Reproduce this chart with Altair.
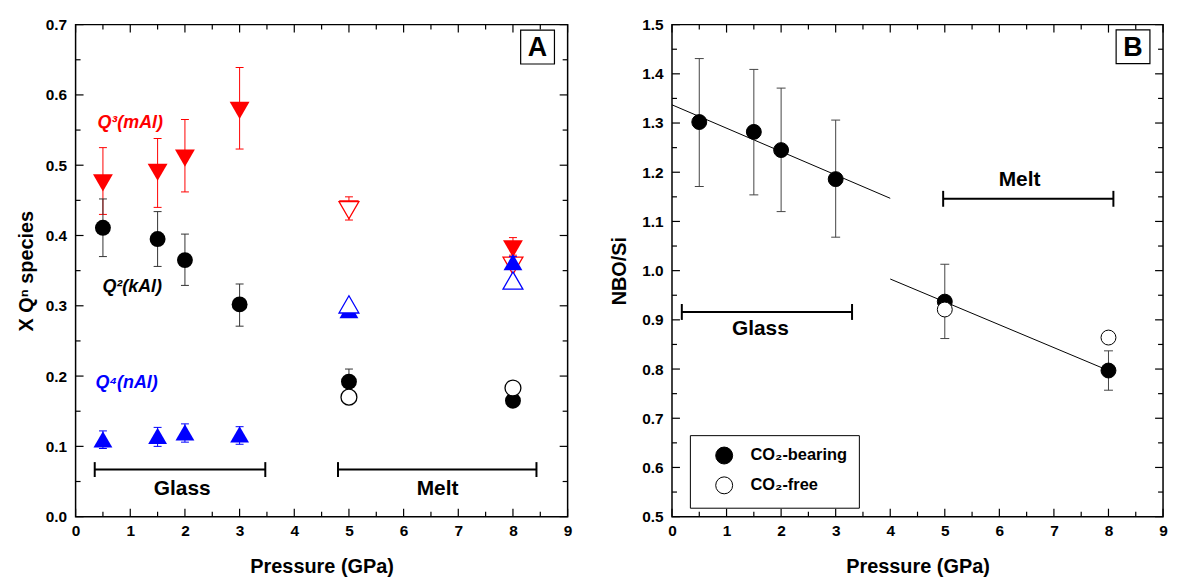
import altair as alt
import pandas as pd

FONT = "Liberation Sans"

# ---------------- Panel A data ----------------
species = ["Q3", "Q2", "Q4"]
sp_color = ["#ff0000", "#000000", "#0000ff"]
err_color = ["#ff0000", "#333333", "#0000ff"]
sp_shape = ["triangle-down", "circle", "triangle-up"]
sp_size = [400, 256, 360]

glass_p = [0.5, 1.5, 2.0, 3.0]
q3_glass = [0.475, 0.490, 0.510, 0.578]
q3_glass_lo = [0.430, 0.440, 0.462, 0.523]
q3_glass_hi = [0.525, 0.538, 0.565, 0.639]
q2_glass = [0.411, 0.395, 0.365, 0.302]
q2_glass_lo = [0.370, 0.356, 0.329, 0.271]
q2_glass_hi = [0.452, 0.434, 0.402, 0.331]
q4_glass = [0.110, 0.115, 0.120, 0.117]
q4_glass_lo = [0.097, 0.100, 0.106, 0.103]
q4_glass_hi = [0.122, 0.127, 0.132, 0.128]

melt_p = [5.0, 8.0]
q3_melt_co2 = [0.438, 0.381]
q3_melt_co2_lo = [0.422, 0.372]
q3_melt_co2_hi = [0.455, 0.397]
q2_melt_co2 = [0.192, 0.165]
q2_melt_co2_lo = [0.180, 0.158]
q2_melt_co2_hi = [0.210, 0.172]
q4_melt_co2 = [0.294, 0.362]
q4_melt_co2_lo = [0.284, 0.355]
q4_melt_co2_hi = [0.300, 0.370]
q3_melt_free = [0.436, 0.357]
q2_melt_free = [0.170, 0.183]
q4_melt_free = [0.302, 0.336]

A_x_major = [0, 1, 2, 3, 4, 5, 6, 7, 8, 9]
A_x_minor = [0.5, 1.5, 2.5, 3.5, 4.5, 5.5, 6.5, 7.5, 8.5]
A_y_major = [0.0, 0.1, 0.2, 0.3, 0.4, 0.5, 0.6, 0.7]
A_y_minor = [0.05, 0.15, 0.25, 0.35, 0.45, 0.55, 0.65]

A_labels = ["Q³(mAl)", "Q²(kAl)", "Q⁴(nAl)"]
A_label_x = [0.40, 0.49, 0.365]
A_label_y = [0.560, 0.326, 0.190]

A_glass_span = [0.35, 3.47]
A_melt_span = [4.80, 8.43]
A_span_level = 0.067
A_region_text = ["Glass", "Melt"]
A_region_x = [1.95, 6.62]
A_region_y = [0.040, 0.040]

# ---------------- Panel B data ----------------
nbo_p = [0.5, 1.5, 2.0, 3.0, 5.0, 8.0]
nbo_co2 = [1.302, 1.282, 1.245, 1.186, 0.937, 0.797]
nbo_co2_lo = [1.171, 1.154, 1.120, 1.068, 0.862, 0.757]
nbo_co2_hi = [1.431, 1.409, 1.371, 1.306, 1.013, 0.837]
nbo_free_p = [5.0, 8.0]
nbo_free = [0.921, 0.864]
fit_glass_p = [0.0, 4.0]
fit_glass = [1.337, 1.147]
fit_melt_p = [4.0, 8.0]
fit_melt = [0.983, 0.797]

B_x_major = A_x_major
B_x_minor = A_x_minor
B_y_major = [0.5, 0.6, 0.7, 0.8, 0.9, 1.0, 1.1, 1.2, 1.3, 1.4, 1.5]
B_y_minor = [0.55, 0.65, 0.75, 0.85, 0.95, 1.05, 1.15, 1.25, 1.35, 1.45]

B_glass_span = [0.18, 3.30]
B_glass_level = 0.916
B_melt_span = [4.97, 8.09]
B_melt_level = 1.146
B_region_text = ["Glass", "Melt"]
B_region_x = [1.62, 6.37]
B_region_y = [0.882, 1.185]

legend_names = ["CO₂-bearing", "CO₂-free"]

W, H = 495, 495
xs = alt.Scale(domain=[0, 9], nice=False, zero=False)
ysA = alt.Scale(domain=[0, 0.7], nice=False, zero=False)
ysB = alt.Scale(domain=[0.5, 1.5], nice=False, zero=False)

AX = alt.Axis(values=A_x_major, format="d", title="Pressure (GPa)",
              labelPadding=7, titlePadding=18, labelFlush=False)
AYA = alt.Axis(values=A_y_major, format=".1f", title="X Qⁿ species",
               labelPadding=9, titlePadding=9, labelFlush=False)
AYB = alt.Axis(values=B_y_major, format=".1f", title="NBO/Si",
               labelPadding=9, titlePadding=12, labelFlush=False)


class P:
    def __init__(self, ys, ay):
        self.ys = ys
        self.ay = ay

    def X(self, f):
        return alt.X(f, scale=xs, axis=AX)

    def Y(self, f):
        return alt.Y(f, scale=self.ys, axis=self.ay)


def frame_ticks(pp, xmaj, xmin, ymaj, ymin, w, h):
    out = []
    for vals, L in ((xmaj, 8), (xmin, 5)):
        d = pd.DataFrame({"t": vals})
        out.append(alt.Chart(d).mark_rule(color="black", strokeWidth=1.2).encode(
            x=pp.X("t:Q"), y=alt.value(h), y2=alt.value(h - L)))
        out.append(alt.Chart(d).mark_rule(color="black", strokeWidth=1.2).encode(
            x=pp.X("t:Q"), y=alt.value(0), y2=alt.value(L)))
    for vals, L in ((ymaj, 8), (ymin, 5)):
        d = pd.DataFrame({"t": vals})
        out.append(alt.Chart(d).mark_rule(color="black", strokeWidth=1.2).encode(
            y=pp.Y("t:Q"), x=alt.value(0), x2=alt.value(L)))
        out.append(alt.Chart(d).mark_rule(color="black", strokeWidth=1.2).encode(
            y=pp.Y("t:Q"), x=alt.value(w), x2=alt.value(w - L)))
    return out


def span_layers(pp, span, level, capsize):
    d = pd.DataFrame({"a": [span[0]], "b": [span[1]], "y": [level]})
    e = pd.DataFrame({"x": span, "y": [level, level]})
    return [
        alt.Chart(d).mark_rule(color="black", strokeWidth=2).encode(
            x=pp.X("a:Q"), x2="b:Q", y=pp.Y("y:Q")),
        alt.Chart(e).mark_tick(orient="vertical", size=capsize, thickness=2, color="black",
                               opacity=1).encode(x=pp.X("x:Q"), y=pp.Y("y:Q")),
    ]


def text_layer(pp, texts, xv, yv, size, color="black", style="normal", align="center"):
    d = pd.DataFrame({"x": xv, "y": yv, "t": texts})
    return alt.Chart(d).mark_text(font=FONT, fontSize=size, fontWeight="bold", fontStyle=style,
                                  color=color, align=align, baseline="middle").encode(
        x=pp.X("x:Q"), y=pp.Y("y:Q"), text="t:N")


def letter_box(pp, letter, xv, yv):
    d = pd.DataFrame({"x": [xv], "y": [yv], "t": [letter]})
    box = alt.Chart(d).mark_point(shape="square", size=1156, filled=True, fill="white",
                                  stroke="black", strokeWidth=1.2, opacity=1).encode(
        x=pp.X("x:Q"), y=pp.Y("y:Q"))
    txt = alt.Chart(d).mark_text(font=FONT, fontSize=27, fontWeight="bold", color="black",
                                 baseline="middle", dy=1).encode(
        x=pp.X("x:Q"), y=pp.Y("y:Q"), text="t:N")
    return [box, txt]


# ---------------- build panel A ----------------
pa = P(ysA, AYA)
series = {
    "Q3": (q3_glass, q3_glass_lo, q3_glass_hi, q3_melt_co2, q3_melt_co2_lo, q3_melt_co2_hi, q3_melt_free),
    "Q2": (q2_glass, q2_glass_lo, q2_glass_hi, q2_melt_co2, q2_melt_co2_lo, q2_melt_co2_hi, q2_melt_free),
    "Q4": (q4_glass, q4_glass_lo, q4_glass_hi, q4_melt_co2, q4_melt_co2_lo, q4_melt_co2_hi, q4_melt_free),
}

layersA = []
for i, sp in enumerate(species):
    g, glo, ghi, m, mlo, mhi, mf = series[sp]
    filled = pd.DataFrame({"p": glass_p + melt_p, "v": g + m, "lo": glo + mlo, "hi": ghi + mhi})
    opened = pd.DataFrame({"p": melt_p, "v": mf})
    ec = err_color[i]
    layersA.append(alt.Chart(filled).mark_rule(color=ec, strokeWidth=1).encode(
        x=pa.X("p:Q"), y=pa.Y("lo:Q"), y2="hi:Q"))
    for col in ("lo", "hi"):
        layersA.append(alt.Chart(filled).mark_tick(orient="horizontal", size=8, thickness=1,
                                                   color=ec, opacity=1).encode(
            x=pa.X("p:Q"), y=pa.Y(f"{col}:Q")))
    layersA.append(alt.Chart(filled).mark_point(filled=True, opacity=1, color=sp_color[i],
                                                shape=sp_shape[i], size=sp_size[i]).encode(
        x=pa.X("p:Q"), y=pa.Y("v:Q")))
    layersA.append(alt.Chart(opened).mark_point(filled=True, fill="white", stroke=sp_color[i],
                                                strokeWidth=1.3, opacity=1, shape=sp_shape[i],
                                                size=400 if sp != "Q2" else 256).encode(
        x=pa.X("p:Q"), y=pa.Y("v:Q")))

layersA += span_layers(pa, A_glass_span, A_span_level, 15)
layersA += span_layers(pa, A_melt_span, A_span_level, 15)
layersA.append(text_layer(pa, A_region_text, A_region_x, A_region_y, 21))
for i in range(3):
    layersA.append(text_layer(pa, [A_labels[i]], [A_label_x[i]], [A_label_y[i]], 18,
                              color=sp_color[i], style="italic", align="left"))
layersA += letter_box(pa, "A", 8.45, 0.668)
layersA += frame_ticks(pa, A_x_major, A_x_minor, A_y_major, A_y_minor, W, H)

panelA = alt.layer(*layersA).properties(width=W, height=H)

# ---------------- build panel B ----------------
pb = P(ysB, AYB)
dB = pd.DataFrame({"p": nbo_p, "v": nbo_co2, "lo": nbo_co2_lo, "hi": nbo_co2_hi})
ptsB = pd.DataFrame({"p": nbo_p + nbo_free_p, "v": nbo_co2 + nbo_free,
                     "type": [legend_names[0]] * len(nbo_p) + [legend_names[1]] * len(nbo_free_p)})
fitG = pd.DataFrame({"p": fit_glass_p, "v": fit_glass})
fitM = pd.DataFrame({"p": fit_melt_p, "v": fit_melt})

layersB = [
    alt.Chart(fitG).mark_line(color="black", strokeWidth=1).encode(x=pb.X("p:Q"), y=pb.Y("v:Q")),
    alt.Chart(fitM).mark_line(color="black", strokeWidth=1).encode(x=pb.X("p:Q"), y=pb.Y("v:Q")),
    alt.Chart(dB).mark_rule(color="#444444", strokeWidth=1).encode(
        x=pb.X("p:Q"), y=pb.Y("lo:Q"), y2="hi:Q"),
    alt.Chart(dB).mark_tick(orient="horizontal", size=9, thickness=1, color="#444444", opacity=1).encode(
        x=pb.X("p:Q"), y=pb.Y("lo:Q")),
    alt.Chart(dB).mark_tick(orient="horizontal", size=9, thickness=1, color="#444444", opacity=1).encode(
        x=pb.X("p:Q"), y=pb.Y("hi:Q")),
    alt.Chart(ptsB).mark_point(filled=True, opacity=1, stroke="black", strokeWidth=1,
                               shape="circle", size=225).encode(
        x=pb.X("p:Q"), y=pb.Y("v:Q"),
        fill=alt.Fill("type:N", scale=alt.Scale(domain=legend_names, range=["black", "white"]),
                      legend=alt.Legend(title=None, orient="none", legendX=618, legendY=413,
                                        symbolType="circle", symbolSize=290,
                                        symbolStrokeColor="black", symbolStrokeWidth=1,
                                        symbolOpacity=1, symbolOffset=14, labelOffset=17,
                                        padding=11, rowPadding=7,
                                        labelFont=FONT, labelFontSize=16.5, labelFontWeight="bold",
                                        labelColor="black", strokeColor="black", fillColor="white"))),
]
layersB += span_layers(pb, B_glass_span, B_glass_level, 16)
layersB += span_layers(pb, B_melt_span, B_melt_level, 16)
layersB.append(text_layer(pb, B_region_text, B_region_x, B_region_y, 21))
layersB += letter_box(pb, "B", 8.45, 1.455)
layersB += frame_ticks(pb, B_x_major, B_x_minor, B_y_major, B_y_minor, 494, H)

panelB = alt.layer(*layersB).properties(width=494, height=H)

chart = alt.hconcat(panelA, panelB, spacing=35).properties(
    padding={"left": 7, "top": 7, "right": 0, "bottom": 0}
).configure_view(stroke="black", strokeWidth=1.5).configure_axis(
    labelFont=FONT, titleFont=FONT, labelFontSize=15.5, labelFontWeight="bold",
    titleFontSize=20, titleFontWeight="bold", labelColor="black", titleColor="black",
    grid=False, ticks=False, domain=False
)

chart.save("out.html", embed_options={"renderer": "svg", "actions": False})
